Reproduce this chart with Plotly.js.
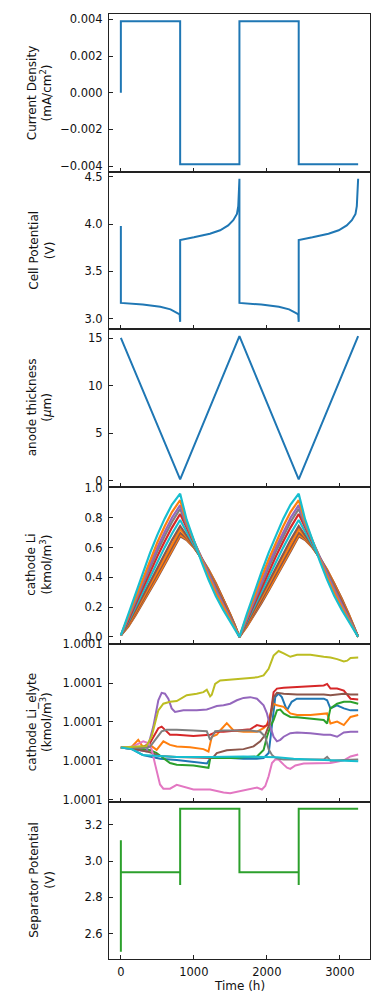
<!DOCTYPE html>
<html>
<head>
<meta charset="utf-8">
<script src="https://cdn.plot.ly/plotly-3.0.1.min.js"></script>
<style>html,body{margin:0;padding:0;background:#fff;}#chart{width:382px;height:1000px;}</style>
</head>
<body>
<div id="chart"></div>
<script>
// ---------- Panel 1: current density ----------
const tCurrent = [0, 0, 812, 812, 1624, 1624, 2436, 2436, 3250];
const currentDensity = [0, 0.0039, 0.0039, -0.0039, -0.0039, 0.0039, 0.0039, -0.0039, -0.0039];

// ---------- Panel 2: cell potential ----------
const tCell = [0, 0, 0, 300, 540, 680, 770, 805, 812, 812, 1000, 1220, 1360, 1470, 1540, 1590, 1608, 1617, 1624,
               1624, 1924, 2164, 2304, 2394, 2429, 2436, 2436, 2624, 2844, 2984, 3094, 3164, 3214, 3232, 3241, 3250];
const cellPotential = [3.40, 3.98, 3.165, 3.148, 3.124, 3.097, 3.06, 3.045, 2.965, 3.831, 3.859, 3.897, 3.934, 3.986, 4.04, 4.107, 4.19, 4.33, 4.48,
                       3.165, 3.148, 3.124, 3.097, 3.06, 3.045, 2.965, 3.831, 3.859, 3.897, 3.934, 3.986, 4.04, 4.107, 4.19, 4.33, 4.48];

// ---------- Panel 3: anode thickness ----------
const tAnode = [0, 812, 1624, 2436, 3250];
const anodeThickness = [15.05, 0.17, 15.24, 0.17, 15.24];

// ---------- Panel 4: cathode Li (several nodes) ----------
const tLi = [0, 100, 200, 300, 400, 500, 600, 700, 812, 900, 1000, 1100, 1200, 1300, 1400, 1500, 1560, 1624,
             1724, 1824, 1924, 2024, 2124, 2224, 2324, 2436, 2524, 2624, 2724, 2824, 2924, 3024, 3124, 3184, 3250];
const li1 = [0.01, 0.151,0.295,0.433,0.564,0.685,0.794,0.889, 0.962, 0.789,0.645,0.510,0.385,0.274,0.183,0.101,0.058,0.0,
             0.151,0.295,0.433,0.564,0.685,0.794,0.889, 0.962, 0.789,0.645,0.510,0.385,0.274,0.183,0.101,0.058,0.0];
const li2 = [0.01, 0.136,0.269,0.397,0.520,0.636,0.743,0.838, 0.918, 0.773,0.645,0.522,0.405,0.296,0.201,0.113,0.063,0.0,
             0.136,0.269,0.397,0.520,0.636,0.743,0.838, 0.918, 0.773,0.645,0.522,0.405,0.296,0.201,0.113,0.063,0.0];
const li3 = [0.01, 0.125,0.249,0.371,0.488,0.600,0.705,0.800, 0.885, 0.760,0.645,0.531,0.419,0.312,0.215,0.121,0.067,0.0,
             0.125,0.249,0.371,0.488,0.600,0.705,0.800, 0.885, 0.760,0.645,0.531,0.419,0.312,0.215,0.121,0.067,0.0];
const li4 = [0.01, 0.118,0.236,0.352,0.466,0.575,0.677,0.772, 0.860, 0.749,0.642,0.534,0.426,0.320,0.222,0.126,0.069,0.0,
             0.118,0.236,0.352,0.466,0.575,0.677,0.772, 0.860, 0.749,0.642,0.534,0.426,0.320,0.222,0.126,0.069,0.0];
const li5 = [0.01, 0.108,0.219,0.328,0.436,0.541,0.641,0.734, 0.825, 0.730,0.634,0.533,0.431,0.328,0.229,0.130,0.071,0.0,
             0.108,0.219,0.328,0.436,0.541,0.641,0.734, 0.825, 0.730,0.634,0.533,0.431,0.328,0.229,0.130,0.071,0.0];
const li6 = [0.01, 0.099,0.201,0.303,0.405,0.505,0.601,0.693, 0.785, 0.706,0.621,0.528,0.431,0.332,0.233,0.133,0.072,0.0,
             0.099,0.201,0.303,0.405,0.505,0.601,0.693, 0.785, 0.706,0.621,0.528,0.431,0.332,0.233,0.133,0.072,0.0];
const li7 = [0.01, 0.088,0.181,0.276,0.372,0.467,0.560,0.650, 0.745, 0.684,0.610,0.526,0.435,0.339,0.240,0.138,0.074,0.0,
             0.088,0.181,0.276,0.372,0.467,0.560,0.650, 0.745, 0.684,0.610,0.526,0.435,0.339,0.240,0.138,0.074,0.0];
const li8 = [0.01, 0.081,0.169,0.260,0.352,0.444,0.535,0.625, 0.722, 0.673,0.607,0.528,0.441,0.347,0.247,0.142,0.076,0.0,
             0.081,0.169,0.260,0.352,0.444,0.535,0.625, 0.722, 0.673,0.607,0.528,0.441,0.347,0.247,0.142,0.076,0.0];
const li9 = [0.01, 0.075,0.158,0.244,0.332,0.421,0.511,0.601, 0.700, 0.663,0.604,0.531,0.447,0.354,0.253,0.146,0.078,0.0,
             0.075,0.158,0.244,0.332,0.421,0.511,0.601, 0.700, 0.663,0.604,0.531,0.447,0.354,0.253,0.146,0.078,0.0];
const li10 = [0.01, 0.070,0.150,0.233,0.319,0.406,0.495,0.584, 0.685, 0.656,0.601,0.532,0.450,0.358,0.257,0.148,0.079,0.0,
              0.070,0.150,0.233,0.319,0.406,0.495,0.584, 0.685, 0.656,0.601,0.532,0.450,0.358,0.257,0.148,0.079,0.0];
const li11 = [0.01, 0.067,0.144,0.225,0.310,0.396,0.484,0.573, 0.675, 0.651,0.600,0.533,0.453,0.361,0.260,0.150,0.080,0.0,
              0.067,0.144,0.225,0.310,0.396,0.484,0.573, 0.675, 0.651,0.600,0.533,0.453,0.361,0.260,0.150,0.080,0.0];
const liSeries = [li11, li10, li9, li8, li7, li6, li5, li4, li3, li2, li1];
const liColors = ['#8c564b', '#ff7f0e', '#8c564b', '#ff7f0e', '#8c564b', '#17becf', '#d62728', '#7f7f7f', '#9467bd', '#ff7f0e', '#17becf'];

// ---------- Panel 5: cathode Li_elyte (offset units; every tick reads 1.0001) ----------
const elyteTicks = [0, 1, 2, 3, 4];
const elyteTickText = ['1.0001', '1.0001', '1.0001', '1.0001', '1.0001'];
const tBlue = [0, 150, 300, 540, 765, 990, 1180, 1225, 1320, 1450, 1680, 1860, 1955, 2025, 2070, 2115, 2160, 2205, 2275, 2340, 2410, 2600, 2780, 2825, 2870, 2960, 3055, 3145, 3250];
const uBlue = [1.34, 1.30, 1.15, 1.05, 1.02, 0.97, 0.93, 1.07, 1.10, 1.08, 1.05, 1.05, 1.07, 1.20, 1.88, 2.64, 2.73, 2.64, 2.30, 2.52, 2.60, 2.60, 2.60, 2.56, 2.35, 2.43, 2.35, 2.30, 2.30];
const tOrange = [0, 150, 238, 307, 398, 490, 582, 673, 765, 948, 1131, 1200, 1245, 1314, 1360, 1451, 1543, 1680, 1864, 1955, 2001, 2047, 2092, 2138, 2230, 2321, 2413, 2596, 2779, 2825, 2871, 2962, 3054, 3146, 3251];
const uOrange = [1.34, 1.36, 1.54, 1.34, 1.41, 1.28, 1.50, 1.41, 1.37, 1.35, 1.30, 1.24, 1.62, 1.67, 1.78, 1.97, 1.78, 1.75, 1.75, 1.84, 1.92, 2.22, 2.47, 2.43, 2.39, 2.22, 2.18, 2.18, 2.20, 2.22, 1.96, 2.01, 1.92, 2.13, 2.18];
const tGreen = [0, 150, 400, 490, 673, 765, 994, 1177, 1200, 1225, 1406, 1589, 1680, 1864, 1955, 2001, 2047, 2092, 2138, 2184, 2230, 2321, 2413, 2596, 2779, 2825, 2871, 2962, 3054, 3146, 3251];
const uGreen = [1.34, 1.33, 1.28, 1.20, 0.94, 0.90, 0.88, 0.84, 0.82, 1.07, 1.07, 1.07, 1.09, 1.11, 1.28, 1.62, 1.88, 2.05, 2.30, 2.32, 2.22, 2.13, 2.12, 2.09, 2.05, 1.96, 2.35, 2.47, 2.52, 2.52, 2.47];
const tRed = [0, 300, 398, 513, 559, 627, 673, 765, 994, 1223, 1268, 1314, 1406, 1589, 1772, 1864, 1955, 2001, 2047, 2092, 2138, 2230, 2413, 2596, 2779, 2825, 2871, 2962, 3054, 3146, 3251];
const uRed = [1.34, 1.36, 1.45, 1.84, 1.88, 1.75, 1.67, 1.67, 1.64, 1.67, 1.71, 1.75, 1.75, 1.78, 1.81, 1.92, 1.88, 1.92, 2.13, 2.77, 2.86, 2.88, 2.90, 2.92, 2.94, 2.98, 2.86, 2.86, 2.81, 2.60, 2.58];
const tPurple = [0, 215, 353, 444, 513, 559, 604, 650, 696, 742, 856, 1039, 1177, 1223, 1314, 1406, 1497, 1589, 1680, 1772, 1864, 1955, 2001, 2047, 2092, 2138, 2184, 2230, 2321, 2413, 2596, 2779, 2871, 2962, 3054, 3146, 3251];
const uPurple = [1.34, 1.28, 1.24, 1.88, 2.56, 2.75, 2.73, 2.60, 2.35, 2.26, 2.30, 2.30, 2.32, 2.35, 2.41, 2.43, 2.47, 2.56, 2.62, 2.64, 2.60, 2.43, 2.22, 1.88, 1.62, 1.50, 1.54, 1.62, 1.71, 1.73, 1.71, 1.67, 1.67, 1.62, 1.73, 1.75, 1.75];
const tBrown = [0, 200, 400, 540, 765, 1000, 1223, 1270, 1314, 1451, 1543, 1680, 1818, 1909, 1978, 2037, 2092, 2138, 2230, 2413, 2596, 2779, 2871, 3054, 3146, 3251];
const uBrown = [1.34, 1.30, 1.22, 1.12, 1.10, 1.08, 1.07, 1.10, 1.20, 1.27, 1.28, 1.30, 1.37, 1.50, 1.67, 1.96, 2.64, 2.75, 2.73, 2.71, 2.71, 2.71, 2.69, 2.73, 2.71, 2.71];
const tPink = [0, 150, 250, 307, 380, 421, 470, 536, 582, 673, 765, 994, 1223, 1406, 1497, 1589, 1680, 1772, 1864, 1932, 1978, 2024, 2070, 2115, 2161, 2230, 2276, 2321, 2390, 2505, 2688, 2871, 3054, 3146, 3251];
const uPink = [1.34, 1.36, 1.45, 1.50, 1.45, 1.30, 0.90, 0.39, 0.28, 0.28, 0.38, 0.26, 0.26, 0.18, 0.16, 0.20, 0.22, 0.26, 0.31, 0.26, 0.35, 0.60, 0.94, 1.03, 1.03, 0.90, 0.82, 0.79, 0.88, 0.93, 0.93, 0.94, 1.01, 1.11, 1.16];
const tGray = [0, 300, 398, 490, 559, 627, 765, 994, 1177, 1223, 1245, 1291, 1406, 1589, 1772, 1909, 1978, 2024, 2070, 2115, 2161, 2230, 2413, 2596, 2779, 2825, 2871, 3054, 3251];
const uGray = [1.34, 1.33, 1.36, 1.60, 1.76, 1.80, 1.80, 1.78, 1.76, 1.54, 1.60, 1.76, 1.78, 1.78, 1.78, 1.75, 1.62, 1.30, 1.15, 1.08, 1.05, 1.03, 1.03, 1.03, 1.03, 1.10, 1.00, 1.02, 1.03];
const tOlive = [0, 350, 421, 467, 513, 582, 673, 765, 902, 1039, 1131, 1177, 1223, 1245, 1291, 1360, 1497, 1680, 1864, 1955, 2024, 2092, 2161, 2230, 2321, 2413, 2596, 2779, 2871, 2962, 3054, 3100, 3146, 3251];
const uOlive = [1.34, 1.38, 1.62, 1.96, 2.30, 2.47, 2.52, 2.54, 2.69, 2.73, 2.77, 2.83, 2.66, 2.70, 2.98, 3.07, 3.09, 3.11, 3.15, 3.20, 3.37, 3.71, 3.83, 3.77, 3.68, 3.73, 3.73, 3.68, 3.66, 3.62, 3.56, 3.58, 3.65, 3.66];
const tCyan = [0, 150, 300, 536, 765, 1223, 1680, 2138, 2367, 2596, 2825, 3054, 3251];
const uCyan = [1.34, 1.30, 1.15, 1.13, 1.10, 1.10, 1.11, 1.09, 1.05, 1.03, 1.01, 0.99, 0.99];

// ---------- Panel 6: separator potential ----------
const tSep = [0, 0, 0, 812, 812, 812, 1624, 1624, 2436, 2436, 2436, 3250];
const sepPotential = [3.115, 2.50, 2.938, 2.938, 2.868, 3.289, 3.289, 2.938, 2.938, 2.868, 3.289, 3.289];

// ---------- Labels ----------
const yTitles = [
  'Current Density<br>(mA/cm<sup>2</sup>)',
  'Cell Potential<br>(V)',
  'anode thickness<br>(<i>μ</i>m)',
  'cathode Li<br>(kmol/m<sup>3</sup>)',
  'cathode Li_elyte<br>(kmol/m<sup>3</sup>)',
  'Separator Potential<br>(V)'
];
const xTitle = 'Time (h)';
const xTicks = [0, 1000, 2000, 3000];

// ---------- Build ----------
const C0 = '#1f77b4', C2 = '#2ca02c';
const FONT = 'DejaVu Sans, Liberation Sans, sans-serif';
const W = 382, H = 1000, L = 109, R = 12, T = 14, B = 41;
const PW = W - L - R;
const traces = [];
function line(x, y, ax, color, width) {
  traces.push({x: x, y: y, type: 'scatter', mode: 'lines', xaxis: 'x' + ax, yaxis: 'y' + ax,
               line: {color: color, width: width || 2}, hoverinfo: 'skip'});
}
line(tCurrent, currentDensity, 1, C0);
line(tCell, cellPotential, 2, C0);
line(tAnode, anodeThickness, 3, C0);
liSeries.forEach((s, i) => line(tLi, s, 4, liColors[i], 2.2));
line(tBlue, uBlue, 5, '#1f77b4');
line(tOrange, uOrange, 5, '#ff7f0e');
line(tGreen, uGreen, 5, '#2ca02c');
line(tRed, uRed, 5, '#d62728');
line(tPurple, uPurple, 5, '#9467bd');
line(tBrown, uBrown, 5, '#8c564b');
line(tPink, uPink, 5, '#e377c2');
line(tGray, uGray, 5, '#7f7f7f');
line(tOlive, uOlive, 5, '#bcbd22');
line(tCyan, uCyan, 5, '#17becf');
line(tSep, sepPotential, 6, C2);

const axisCommon = {
  showline: true, mirror: true, linecolor: '#222', linewidth: 1,
  ticks: 'inside', ticklen: 4, tickwidth: 1, tickcolor: '#222',
  showgrid: false, zeroline: false,
  tickfont: {family: FONT, size: 11.5, color: '#111'}
};
const yRanges = [[-0.00429, 0.00429], [2.889, 4.556], [-0.58, 15.99], [-0.048, 1.010], [-0.05, 4.01], [2.4606, 3.3285]];
const yFmt = [
  {tickvals: [-0.004, -0.002, 0, 0.002, 0.004], tickformat: '.3f'},
  {tickvals: [3.0, 3.5, 4.0, 4.5], tickformat: '.1f'},
  {tickvals: [0, 5, 10, 15], tickformat: 'd'},
  {tickvals: [0, 0.2, 0.4, 0.6, 0.8, 1.0], tickformat: '.1f'},
  {tickvals: elyteTicks, ticktext: elyteTickText},
  {tickvals: [2.6, 2.8, 3.0, 3.2], tickformat: '.1f'}
];
const layout = {
  width: W, height: H,
  margin: {l: L, r: R, t: T, b: B, pad: 0},
  paper_bgcolor: '#fff', plot_bgcolor: '#fff',
  showlegend: false,
  annotations: []
};
const titleX = [39.5, 42.5, 39.5, 39.5, 39.5, 42.5];
for (let i = 1; i <= 6; i++) {
  const d0 = (6 - i) / 6, d1 = (7 - i) / 6;
  layout['xaxis' + i] = Object.assign({}, axisCommon, {
    domain: [0, 1], anchor: 'y' + i, range: [-162.5, 3412.5],
    tickvals: xTicks, tickformat: 'd', showticklabels: i === 6, ticklabelstandoff: 2
  });
  layout['yaxis' + i] = Object.assign({}, axisCommon, yFmt[i - 1], {
    domain: [d0, d1], anchor: 'x' + i, range: yRanges[i - 1], ticklabelstandoff: 3
  });
  layout.annotations.push({
    text: yTitles[i - 1], textangle: -90, showarrow: false,
    xref: 'paper', yref: 'paper', x: (titleX[i - 1] - L) / PW, y: (d0 + d1) / 2,
    xanchor: 'center', yanchor: 'middle',
    font: {family: FONT, size: 12, color: '#111'}
  });
}
layout.annotations.push({
  text: xTitle, showarrow: false, xref: 'paper', yref: 'paper',
  x: 0.5, y: -(985.7 - (H - B)) / (H - T - B), xanchor: 'center', yanchor: 'middle',
  font: {family: FONT, size: 12, color: '#111'}
});
Plotly.newPlot('chart', traces, layout, {staticPlot: true, displayModeBar: false});
</script>
</body>
</html>
